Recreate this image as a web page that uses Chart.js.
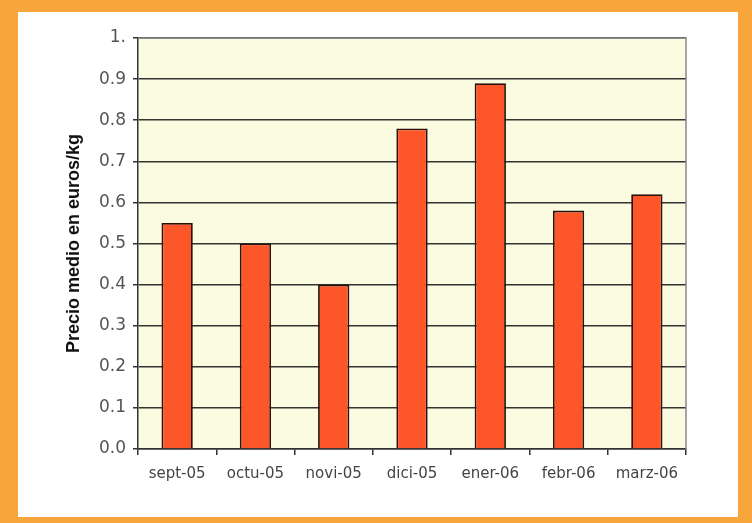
<!DOCTYPE HTML>
<html lang="es">

<head>
    <title>Precio medio en euros/kg</title>
    <meta charset="utf-8" />
    <script src="https://cdn.jsdelivr.net/npm/chart.js@4"></script>
    <style>
        body { margin: 0; background-color: #f8a53c; width: 752px; height: 523px; overflow: hidden; }
        #box { position: absolute; left: 18px; top: 12px; width: 720px; height: 505px; background-color: #fff; }
    </style>
</head>

<body>
    <div id="box">
        <canvas id="graph" width="720" height="505"></canvas>
    </div>
    <script>
        const months = ['sept-05', 'octu-05', 'novi-05', 'dici-05', 'ener-06', 'febr-06', 'marz-06'];
        const prices = [0.55, 0.50, 0.40, 0.78, 0.89, 0.58, 0.62];

        // plot background and frame, the way the spreadsheet draws it
        const plotBack = {
            id: 'plotBack',
            beforeDraw(chart) {
                const { ctx, chartArea: a } = chart;
                ctx.save();
                ctx.fillStyle = '#fbfbe1';
                ctx.fillRect(a.left, a.top, a.right - a.left, a.bottom - a.top);
                ctx.restore();
            },
            afterDatasetsDraw(chart) {
                const { ctx, chartArea: a } = chart;
                ctx.save();
                ctx.strokeStyle = '#888';
                ctx.lineWidth = 1.5;
                ctx.beginPath();
                ctx.moveTo(a.left, a.top);
                ctx.lineTo(a.right, a.top);
                ctx.lineTo(a.right, a.bottom);
                ctx.stroke();
                ctx.restore();
            }
        };

        new Chart(document.getElementById('graph').getContext('2d'), {
            type: 'bar',
            data: {
                labels: months,
                datasets: [{
                    data: prices,
                    backgroundColor: '#fd5628',
                    borderColor: '#2a120a',
                    borderWidth: 1.8,
                    barPercentage: 0.4,
                    categoryPercentage: 1
                }]
            },
            options: {
                responsive: false,
                animation: false,
                layout: { padding: { left: 45, top: 26, right: 52, bottom: 0 } },
                plugins: { legend: { display: false }, tooltip: { enabled: false } },
                scales: {
                    x: {
                        afterFit: (s) => { s.height = 68; },
                        grid: { offset: true, drawOnChartArea: false, tickLength: 6, color: '#333', lineWidth: 1.5 },
                        border: { color: '#333', width: 1.5 },
                        ticks: { color: '#444', padding: 10, font: { family: 'DejaVu Sans', size: 15 } }
                    },
                    y: {
                        min: 0,
                        max: 1,
                        afterFit: (s) => { s.width = 75; },
                        grid: { color: '#333', lineWidth: 1.5, tickLength: 5 },
                        border: { color: '#333', width: 1.5 },
                        ticks: {
                            stepSize: 0.1,
                            color: '#555',
                            padding: 7,
                            font: { family: 'DejaVu Sans', size: 17 },
                            callback: (v) => v === 1 ? '1.' : v.toFixed(1)
                        },
                        title: {
                            display: true,
                            text: 'Precio medio en euros/kg',
                            color: '#111',
                            padding: 0,
                            font: { family: 'Liberation Sans', size: 18, weight: 'bold' }
                        }
                    }
                }
            },
            plugins: [plotBack]
        });
    </script>
</body>

</html>
